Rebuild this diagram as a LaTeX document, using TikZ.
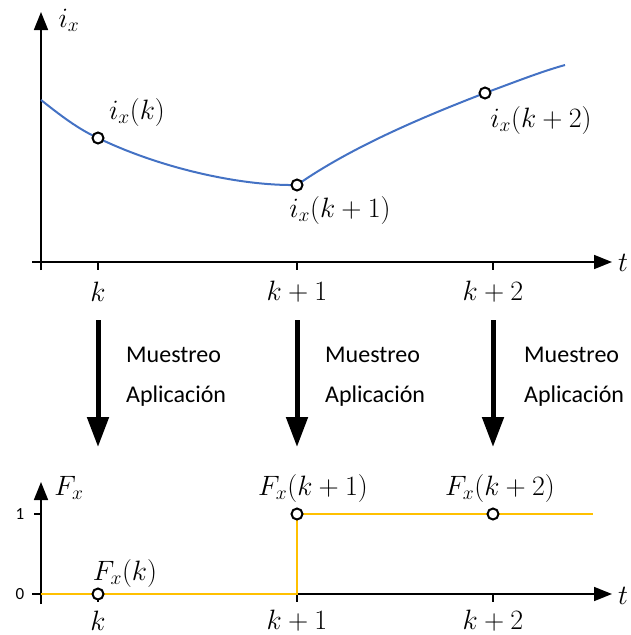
\RequirePackage{fix-cm}
\documentclass[tikz,border=0pt]{standalone}
\usepackage[no-math]{fontspec}
\setmainfont{Carlito}
\usetikzlibrary{arrows.meta}
\definecolor{curveblue}{RGB}{68,114,196}
\definecolor{steporange}{RGB}{255,192,0}
\begin{document}
\begin{tikzpicture}[x=1pt,y=-1pt,
 axis/.style={line width=1.6pt,-{Triangle[length=18pt,width=14pt]}},
 tickmark/.style={line width=1.2pt},
 sample/.style={circle,draw=black,fill=white,line width=2pt,minimum size=11pt,inner sep=0pt},
 mlabel/.style={font=\fontsize{28}{32}\selectfont,inner sep=0pt},
 txt/.style={font=\fontsize{24}{28}\selectfont,anchor=west,inner sep=0pt},
 bigarrow/.style={line width=5pt,-{Triangle[length=30pt,width=21pt]}},
 numlabel/.style={font=\fontsize{17}{20}\selectfont,inner sep=0pt}]
\useasboundingbox (0,0) rectangle (630,635);

% ---------- top chart ----------
\coordinate (Y1b) at (41,270);
\coordinate (Y1t) at (41,12);
\coordinate (X1s) at (32,262);
\coordinate (X1e) at (612,262);
\draw[axis] (Y1b) -- (Y1t);
\draw[axis] (X1s) -- (X1e);
\foreach \xx in {98,297,493} \draw[tickmark] (\xx,262) -- (\xx,270);
\node[mlabel] (ix) at (69,20) {$i_x$};
\node[mlabel] (t1) at (623,263) {$t$};
\node[mlabel] (k1) at (98,292) {$k$};
\node[mlabel] (k1p1) at (297,292) {$k+1$};
\node[mlabel] (k1p2) at (493,292) {$k+2$};

\draw[curveblue,line width=2pt] (41,100) .. controls (60,115) and (78,129) .. (98,138)
  .. controls (160,168) and (240,186) .. (297,185)
  .. controls (350,148) and (420,118) .. (485,93)
  .. controls (515,82) and (540,72) .. (565,65);
\node[sample] (s1) at (98,138) {};
\node[sample] (s2) at (297,185) {};
\node[sample] (s3) at (485,93) {};
\node[mlabel] (l1) at (137,112) {$i_x(k)$};
\node[mlabel] (l2) at (340,210) {$i_x(k+1)$};
\node[mlabel] (l3) at (541,120) {$i_x(k+2)$};

% ---------- sampling arrows ----------
\coordinate (a1s) at (98,320);  \coordinate (a1e) at (98,447);
\coordinate (a2s) at (297,320); \coordinate (a2e) at (297,447);
\coordinate (a3s) at (493,320); \coordinate (a3e) at (493,447);
\draw[bigarrow] (a1s) -- (a1e);
\draw[bigarrow] (a2s) -- (a2e);
\draw[bigarrow] (a3s) -- (a3e);
\node[txt] (m1) at (126,355) {Muestreo};
\node[txt] (p1) at (126,396) {Aplicación};
\node[txt] (m2) at (325,355) {Muestreo};
\node[txt] (p2) at (325,396) {Aplicación};
\node[txt] (m3) at (524,355) {Muestreo};
\node[txt] (p3) at (524,396) {Aplicación};

% ---------- bottom chart ----------
\coordinate (Y2b) at (41,604);
\coordinate (Y2t) at (41,482);
\coordinate (X2s) at (32,594);
\coordinate (X2e) at (612,594);
\draw[axis] (Y2b) -- (Y2t);
\draw[axis] (X2s) -- (X2e);
\draw[tickmark] (34,514) -- (41,514);
\draw[tickmark] (34,594) -- (41,594);
\foreach \xx in {98,297,493} \draw[tickmark] (\xx,594) -- (\xx,602);
\node[numlabel] (one) at (20,514) {1};
\node[numlabel] (zero) at (20,594) {0};
\node[mlabel] (Fx) at (69,488) {$F_x$};
\node[mlabel] (t2) at (623,596) {$t$};
\node[mlabel] (k2) at (98,621) {$k$};
\node[mlabel] (k2p1) at (297,621) {$k+1$};
\node[mlabel] (k2p2) at (493,621) {$k+2$};

\draw[steporange,line width=2.6pt] (41,594) -- (297,594) -- (297,514) -- (593,514);
\node[sample] (f1) at (98,594) {};
\node[sample] (f2) at (297,514) {};
\node[sample] (f3) at (493,514) {};
\node[mlabel] (lf1) at (125,573) {$F_x(k)$};
\node[mlabel] (lf2) at (313,488) {$F_x(k+1)$};
\node[mlabel] (lf3) at (500,488) {$F_x(k+2)$};
\end{tikzpicture}
\end{document}
